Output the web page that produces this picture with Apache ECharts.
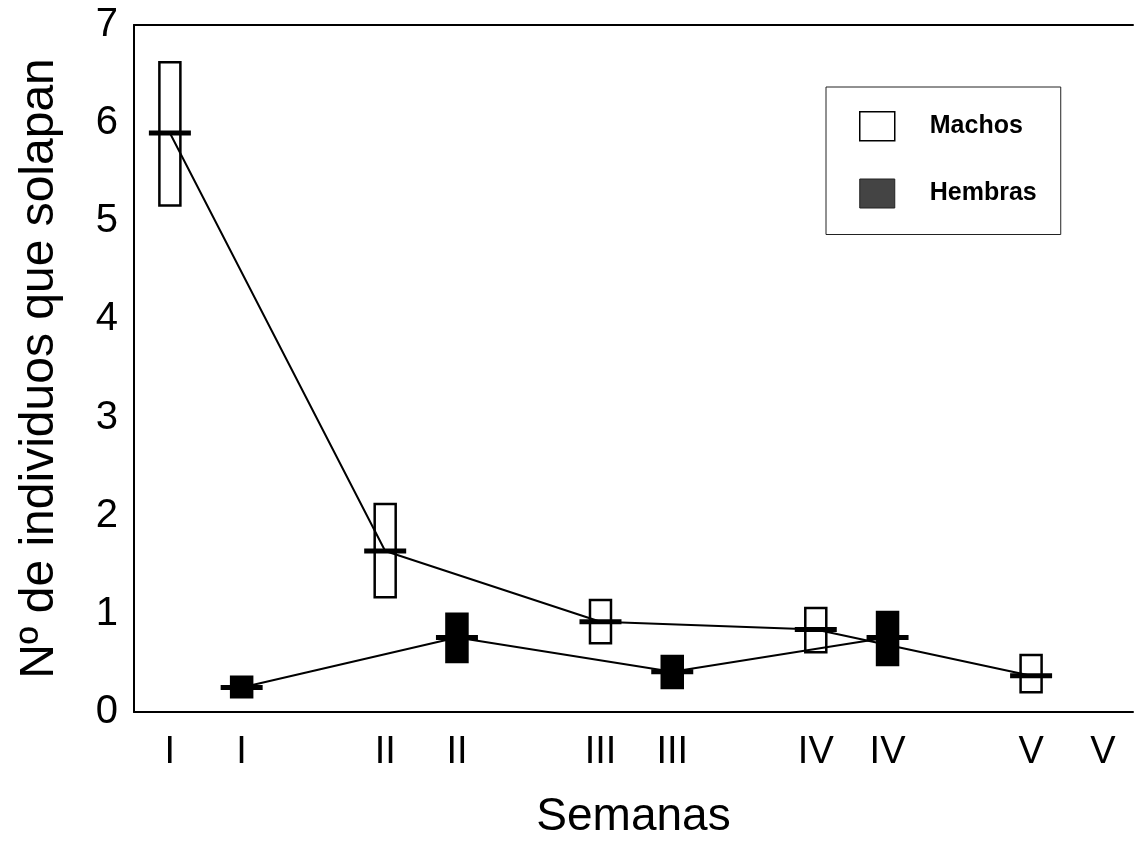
<!DOCTYPE html>
<html>
<head>
<meta charset="utf-8">
<script src="https://cdn.jsdelivr.net/npm/echarts@6/dist/echarts.min.js"></script>
<style>html,body{margin:0;padding:0;background:#fff;}#chart{width:1136px;height:845px;}</style>
</head>
<body>
<div id="chart"></div>
<script>
// Tick labels (two slots per week: Machos, Hembras, then a spacer)
const xLabels = ['I','I','','II','II','','III','III','','IV','IV','','V','V'];
const weeks = ['I','II','III','IV','V'];
// Machos
const machosMean = [5.90, 1.64, 0.92, 0.84, 0.37];
const machosLow  = [5.16, 1.17, 0.70, 0.61, 0.20];
const machosHigh = [6.62, 2.12, 1.14, 1.06, 0.58];
// Hembras (no data in week V)
const hembrasMean = [0.25, 0.76, 0.41, 0.76, null];
const hembrasLow  = [0.15, 0.51, 0.245, 0.48, null];
const hembrasHigh = [0.36, 1.00, 0.57, 1.02, null];

const slot = (i, offset) => 3 * i + offset;
function boxes(low, high, offset) {
  const out = [];
  weeks.forEach((w, i) => { if (low[i] != null) out.push([slot(i, offset), low[i], high[i]]); });
  return out;
}
function means(mean, offset) {
  const out = [];
  weeks.forEach((w, i) => { if (mean[i] != null) out.push([slot(i, offset), mean[i]]); });
  return out;
}
function boxRenderer(fill) {
  return function (params, api) {
    const lo = api.coord([api.value(0), api.value(1)]);
    const hi = api.coord([api.value(0), api.value(2)]);
    const w = 21;
    return {
      type: 'rect',
      shape: { x: lo[0] - w / 2, y: hi[1], width: w, height: lo[1] - hi[1] },
      style: { fill: fill, stroke: '#000', lineWidth: 2.5 }
    };
  };
}

const chart = echarts.init(document.getElementById('chart'));
const font = 'Liberation Sans, Arial, Helvetica, sans-serif';
const xMin = -0.5, xMax = 13.42;
chart.setOption({
  animation: false,
  backgroundColor: '#fff',
  grid: { left: 134, right: 0, top: 25, bottom: 133 },
  legend: {
    left: 826, top: 87, orient: 'vertical',
    backgroundColor: '#fff', borderColor: '#222', borderWidth: 1,
    padding: [24, 24, 26, 33],
    itemWidth: 35, itemHeight: 29, itemGap: 37,
    textStyle: { fontFamily: font, fontSize: 25, fontWeight: 'bold', color: '#000', padding: [0, 0, 0, 30] },
    data: [
      { name: 'Machos', icon: 'rect', itemStyle: { color: '#fff', borderColor: '#000', borderWidth: 1.5 } },
      { name: 'Hembras', icon: 'rect', itemStyle: { color: '#444', borderColor: '#222', borderWidth: 1 } }
    ]
  },
  xAxis: [{
    type: 'value', min: xMin, max: xMax, interval: 0.5, position: 'bottom',
    name: 'Semanas', nameLocation: 'middle', nameGap: 82,
    nameTextStyle: { fontFamily: font, fontSize: 46, color: '#000' },
    axisLine: { show: true, onZero: false, lineStyle: { color: '#000', width: 2 } },
    axisTick: { show: false },
    axisLabel: {
      margin: 22, fontFamily: font, fontSize: 38, color: '#000', showMinLabel: true, showMaxLabel: true,
      formatter: v => (Number.isInteger(v) && xLabels[v] != null) ? xLabels[v] : ''
    },
    splitLine: { show: false }
  }, {
    type: 'value', min: xMin, max: xMax, position: 'top',
    axisLine: { show: true, onZero: false, lineStyle: { color: '#000', width: 2 } },
    axisTick: { show: false }, axisLabel: { show: false }, splitLine: { show: false }
  }],
  yAxis: {
    type: 'value', min: 0, max: 7, interval: 1,
    name: 'Nº de individuos que solapan', nameLocation: 'middle', nameGap: 70, nameRotate: 90,
    nameTextStyle: { fontFamily: font, fontSize: 48, color: '#000' },
    axisLine: { show: true, onZero: false, lineStyle: { color: '#000', width: 2 } },
    axisTick: { show: false },
    axisLabel: { margin: 16, fontFamily: font, fontSize: 40, color: '#000' },
    splitLine: { show: false }
  },
  series: [
    { name: 'Machos', type: 'custom', renderItem: boxRenderer('#fff'), data: boxes(machosLow, machosHigh, 0), z: 2, itemStyle: { color: '#fff', borderColor: '#000' } },
    { name: 'Hembras', type: 'custom', renderItem: boxRenderer('#000'), data: boxes(hembrasLow, hembrasHigh, 1), z: 2, itemStyle: { color: '#444' } },
    { name: 'Machos media', type: 'line', data: means(machosMean, 0), showSymbol: false, symbol: 'none', lineStyle: { color: '#000', width: 2 }, z: 3 },
    { name: 'Hembras media', type: 'line', data: means(hembrasMean, 1), showSymbol: false, symbol: 'none', lineStyle: { color: '#000', width: 2 }, z: 3 },
    { name: 'Machos marca', type: 'scatter', data: means(machosMean, 0), symbol: 'rect', symbolSize: [42, 5], itemStyle: { color: '#000', opacity: 1 }, z: 4 },
    { name: 'Hembras marca', type: 'scatter', data: means(hembrasMean, 1), symbol: 'rect', symbolSize: [42, 5], itemStyle: { color: '#000', opacity: 1 }, z: 4 }
  ]
});
</script>
</body>
</html>
